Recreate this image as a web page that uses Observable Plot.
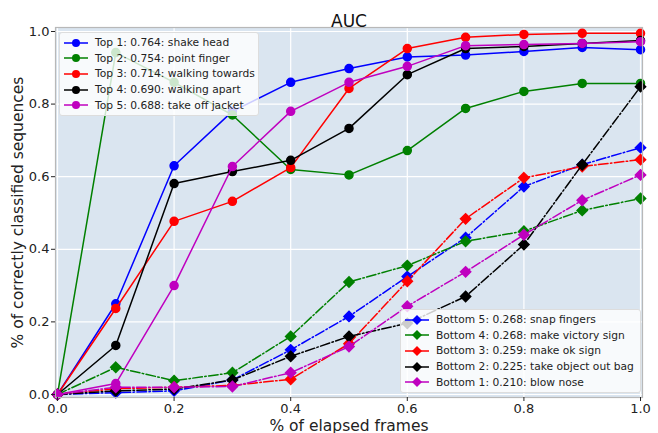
<!DOCTYPE html>
<html>
<head>
<meta charset="utf-8">
<script src="https://cdn.jsdelivr.net/npm/d3@7"></script>
<script src="https://cdn.jsdelivr.net/npm/@observablehq/plot@0.6"></script>
<style>
  body { margin: 0; background: #fff; }
  #wrap { position: relative; width: 658px; height: 433px; font-family: "DejaVu Sans", sans-serif; }
  .legend { position: absolute; background: rgba(255,255,255,0.8); border: 1px solid #ddd; border-radius: 3px; padding: 2px 4px; box-sizing: border-box; }
  .row { display: flex; align-items: center; height: 15.6px; font-size: 10.7px; color: #222; white-space: nowrap; }
  .row svg { margin-right: 7px; flex: none; }
</style>
</head>
<body>
<div id="wrap"></div>
<script>
const frames = [0, 0.1, 0.2, 0.3, 0.4, 0.5, 0.6, 0.7, 0.8, 0.9, 1.0];

// Top 5 (solid lines, circles)
const shakeHead      = [0, 0.25, 0.63, 0.78, 0.86, 0.898, 0.93, 0.935, 0.945, 0.956, 0.95];
const pointFinger    = [0, 0.942, 0.86, 0.77, 0.62, 0.605, 0.672, 0.788, 0.835, 0.857, 0.857];
const walkingTowards = [0, 0.237, 0.477, 0.532, 0.625, 0.843, 0.953, 0.984, 0.992, 0.995, 0.995];
const walkingApart   = [0, 0.135, 0.581, 0.614, 0.645, 0.733, 0.881, 0.953, 0.959, 0.967, 0.975];
const takeOffJacket  = [0, 0.03, 0.30, 0.628, 0.78, 0.86, 0.904, 0.961, 0.964, 0.967, 0.972];

// Bottom 5 (dash-dot lines, diamonds)
const snapFingers    = [0, 0.005, 0.01, 0.04, 0.123, 0.215, 0.325, 0.432, 0.573, 0.633, 0.68];
const victorySign    = [0, 0.075, 0.038, 0.06, 0.16, 0.31, 0.355, 0.422, 0.45, 0.507, 0.54];
const okSign         = [0, 0.016, 0.02, 0.025, 0.042, 0.14, 0.312, 0.484, 0.597, 0.628, 0.647];
const objectOutBag   = [0, 0.01, 0.015, 0.04, 0.105, 0.16, 0.196, 0.27, 0.413, 0.633, 0.848];
const blowNose       = [0, 0.02, 0.02, 0.022, 0.06, 0.132, 0.243, 0.338, 0.44, 0.535, 0.605];

const topLabels = ["Top 1: 0.764: shake head", "Top 2: 0.754: point finger", "Top 3: 0.714: walking towards", "Top 4: 0.690: walking apart", "Top 5: 0.688: take off jacket"];
const bottomLabels = ["Bottom 5: 0.268: snap fingers", "Bottom 4: 0.268: make victory sign", "Bottom 3: 0.259: make ok sign", "Bottom 2: 0.225: take object out bag", "Bottom 1: 0.210: blow nose"];
const colors = ["#0000ff", "#008000", "#ff0000", "#000000", "#bf00bf"];
const tickValues = [0, 0.2, 0.4, 0.6, 0.8, 1.0];

const topSeries = [shakeHead, pointFinger, walkingTowards, walkingApart, takeOffJacket];
const bottomSeries = [snapFingers, victorySign, okSign, objectOutBag, blowNose];

const rows = (vals, name) => frames.map((f, i) => ({x: f, y: vals[i], name}));

const marks = [
  Plot.frame({fill: "#dae5f0", stroke: "none"}),
  Plot.gridX(tickValues, {stroke: "#fff", strokeOpacity: 1, strokeWidth: 1.2}),
  Plot.gridY(tickValues, {stroke: "#fff", strokeOpacity: 1, strokeWidth: 1.2}),
];
topSeries.forEach((s, i) => {
  const d = rows(s, topLabels[i]);
  marks.push(Plot.line(d, {x: "x", y: "y", stroke: colors[i], strokeWidth: 1.5}));
  marks.push(Plot.dot(d, {x: "x", y: "y", fill: colors[i], stroke: colors[i], r: 4}));
});
bottomSeries.forEach((s, i) => {
  const d = rows(s, bottomLabels[i]);
  marks.push(Plot.line(d, {x: "x", y: "y", stroke: colors[i], strokeWidth: 1.5, strokeDasharray: "9.6,2.4,1.5,2.4"}));
  marks.push(Plot.dot(d, {x: "x", y: "y", fill: colors[i], stroke: colors[i], symbol: "diamond2", r: 4.6}));
});
marks.push(Plot.frame({stroke: "#b8b8b8", strokeWidth: 1.2}));
marks.push(Plot.axisX({ticks: tickValues, tickFormat: d => d.toFixed(1), tickSize: 4, tickPadding: 2, fontSize: 13, label: "% of elapsed frames", labelAnchor: "center", labelArrow: "none", labelOffset: 33, color: "#222"}));
marks.push(Plot.axisY({ticks: tickValues, tickFormat: d => d.toFixed(1), tickSize: 4, tickPadding: 2, fontSize: 13, label: "% of correctly classified sequences", labelAnchor: "center", labelArrow: "none", labelOffset: 44, color: "#222"}));
marks.push(Plot.text(["AUC"], {frameAnchor: "top", dy: -13, fontSize: 17, fill: "#111"}));

const chart = Plot.plot({
  width: 658,
  height: 433,
  marginLeft: 55,
  marginRight: 16,
  marginTop: 27,
  marginBottom: 36,
  style: {fontFamily: "DejaVu Sans, sans-serif", fontSize: "13px", background: "#fff"},
  x: {domain: [-0.0034, 1.0034]},
  y: {domain: [-0.0083, 1.011]},
  marks
});
const wrap = document.getElementById("wrap");
wrap.appendChild(chart);
d3.select(chart).selectAll("g[aria-label='x-axis label'] text, g[aria-label='y-axis label'] text").attr("font-size", 15.5);

function legend(labels, symbol, dashed, left, top, width) {
  const box = document.createElement("div");
  box.className = "legend";
  box.style.left = left + "px";
  box.style.top = top + "px";
  box.style.width = width + "px";
  labels.forEach((lab, i) => {
    const row = document.createElement("div");
    row.className = "row";
    const c = colors[i];
    const mk = symbol === "circle"
      ? `<circle cx="12" cy="5" r="4" fill="${c}"/>`
      : `<path d="M12,0 L17,5 L12,10 L7,5 Z" fill="${c}"/>`;
    row.innerHTML = `<svg width="24" height="10"><line x1="0" x2="24" y1="5" y2="5" stroke="${c}" stroke-width="1.5" ${dashed ? 'stroke-dasharray="9.6,2.4,1.5,2.4"' : ''}/>${mk}</svg><span>${lab}</span>`;
    box.appendChild(row);
  });
  wrap.appendChild(box);
}
legend(topLabels, "circle", false, 59, 32, 200);
legend(bottomLabels, "diamond", true, 400, 309, 241);
</script>
</body>
</html>
